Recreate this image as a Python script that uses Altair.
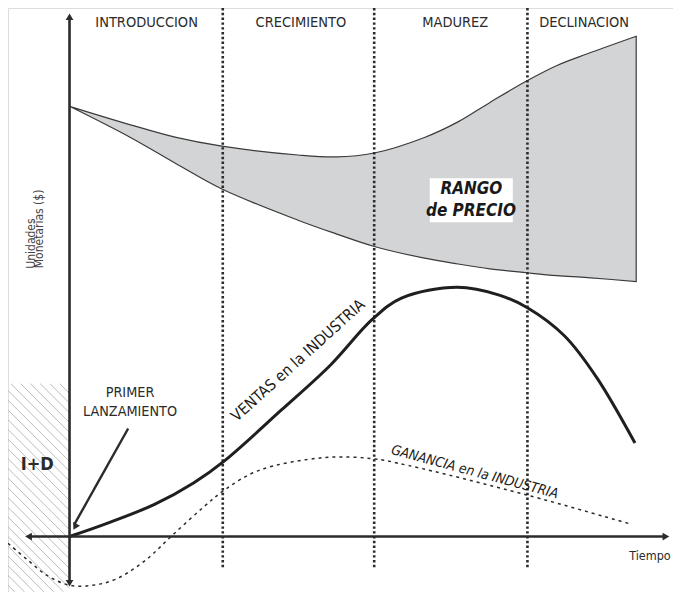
import altair as alt
import pandas as pd

# ---------------- data (time units / money units, origin at axis crossing) ----------------
phases = ["INTRODUCCION", "CRECIMIENTO", "MADUREZ", "DECLINACION"]
phase_center = [5.06, 15.19, 25.32, 33.78]
phase_bounds = [10.06, 20.0, 30.06]

price_t = [0, 4, 7, 10, 15, 17.5, 20, 23.3, 25.5, 27.6, 30, 32, 34, 37.2]
price_hi = [44.2, 42.3, 41.0, 40.1, 39.2, 39.0, 39.4, 41.0, 42.6, 44.6, 46.8, 48.4, 49.6, 51.4]
price_lo = [44.2, 41.0, 38.3, 35.7, 32.5, 31.1, 29.8, 28.6, 28.0, 27.5, 27.1, 26.8, 26.6, 26.2]

sales_t = [0, 2.37, 5.58, 8.14, 10.19, 13.91, 17.12, 19.87, 21.79, 25.45, 28.21, 30.06, 32.5, 34.62, 37.12]
sales_v = [0, 1.3, 3.3, 5.5, 7.8, 13.0, 17.6, 22.3, 24.5, 25.6, 24.8, 23.5, 20.6, 16.3, 9.6]

profit_t = [-4.04, -2.76, -1.47, 0, 1.54, 3.01, 4.94, 6.73, 8.78, 10.19, 12.44, 16.67, 19.87, 22.24, 29.94, 36.79]
profit_v = [-0.7, -2.4, -4.0, -5.0, -5.0, -4.4, -2.5, 0.1, 3.0, 4.8, 6.8, 8.1, 8.0, 7.3, 4.3, 1.3]

# ---------------- scales ----------------
X0, X1 = -4.0385, 39.615
Y0, Y1 = -5.7, 54.3
xs = alt.Scale(domain=[X0, X1], nice=False, zero=False)
ys = alt.Scale(domain=[Y0, Y1], nice=False, zero=False)

FONT = "Liberation Sans Narrow, Arial Narrow, DejaVu Sans Condensed, sans-serif"
INK = "#2b2b2b"
CURVE = "catmull-rom"


def X(f="t"):
    return alt.X(f"{f}:Q", scale=xs, axis=None)


def Y(f="m"):
    return alt.Y(f"{f}:Q", scale=ys, axis=None)


# hatch of the I+D zone (decorative), built in reference pixel space
hatch = []
px_l, px_r, py_t, py_b = 0, 63, 386, 600
c = py_t - px_r
while c <= py_b - px_l:
    xa = max(px_l, py_t - c)
    xb = min(px_r, py_b - c)
    if xb > xa:
        hatch.append({"t": (xa - 63) / 15.6, "m": (543 - (xa + c)) / 10,
                      "t2": (xb - 63) / 15.6, "m2": (543 - (xb + c)) / 10})
    c += 10
hatch_df = pd.DataFrame(hatch)

hatch_layer = alt.Chart(hatch_df).mark_rule(color="#b4b4b4", strokeWidth=0.9).encode(
    x=X(), y=Y(), x2="t2:Q", y2="m2:Q")

band_df = pd.DataFrame({"t": price_t, "hi": price_hi, "lo": price_lo})
band = alt.Chart(band_df).mark_area(
    fill="#d3d4d6", stroke="#3a3a3a", strokeWidth=1.2, interpolate=CURVE, opacity=1
).encode(x=X(), y=Y("hi"), y2="lo:Q")

label_box = alt.Chart(pd.DataFrame({"t": [23.65], "t2": [29.1], "m": [36.8], "m2": [32.3]})).mark_rect(
    fill="white").encode(x=X(), x2="t2:Q", y=Y(), y2="m2:Q")

bounds_df = pd.DataFrame({"t": phase_bounds, "m": [54.3] * 3, "m2": [-3.4] * 3})
bounds = alt.Chart(bounds_df).mark_rule(color=INK, strokeWidth=2.6, strokeDash=[2.4, 2.4]).encode(
    x=X(), y=Y(), y2="m2:Q")

axes_df = pd.DataFrame({"t": [0, -2.6], "t2": [0, 39.0], "m": [53.2, 0], "m2": [-4.6, 0]})
axes = alt.Chart(axes_df).mark_rule(color=INK, strokeWidth=2.6).encode(
    x=X(), x2="t2:Q", y=Y(), y2="m2:Q")

launch_df = pd.DataFrame({"t": [3.85], "m": [11.1], "t2": [0.3], "m2": [1.2]})
launch = alt.Chart(launch_df).mark_rule(color=INK, strokeWidth=2.4).encode(
    x=X(), y=Y(), x2="t2:Q", y2="m2:Q")

heads_df = pd.DataFrame({
    "t": [0, 0, -2.69, 39.15, 0.36],
    "m": [53.4, -4.8, 0, 0, 1.0],
    "ang": [0, 180, 270, 90, 208.7],
})
heads = alt.Chart(heads_df).mark_point(shape="triangle-up", filled=True, color=INK, size=60, opacity=1).encode(
    x=X(), y=Y(), angle=alt.Angle("ang:Q", scale=None))

sales = alt.Chart(pd.DataFrame({"t": sales_t, "m": sales_v})).mark_line(
    color="#1f1f1f", strokeWidth=3, interpolate=CURVE).encode(x=X(), y=Y())

profit = alt.Chart(pd.DataFrame({"t": profit_t, "m": profit_v})).mark_line(
    color=INK, strokeWidth=1.5, strokeDash=[3, 4], interpolate=CURVE).encode(x=X(), y=Y())

phase_txt = alt.Chart(pd.DataFrame({"t": phase_center, "m": [52.8] * 4, "txt": phases})).mark_text(
    font=FONT, fontSize=14.5, color=INK, align="center", baseline="middle").encode(x=X(), y=Y(), text="txt:N")

rango = alt.Chart(pd.DataFrame({"t": [26.38, 26.35], "m": [35.7, 33.4], "txt": ["RANGO", "de PRECIO"]})).mark_text(
    font=FONT, fontSize=17, fontStyle="italic", fontWeight="bold", color="#1a1a1a",
    align="center", baseline="middle").encode(x=X(), y=Y(), text="txt:N")

primer = alt.Chart(pd.DataFrame({"t": [3.97, 3.97], "m": [14.7, 12.8], "txt": ["PRIMER", "LANZAMIENTO"]})).mark_text(
    font=FONT, fontSize=14.3, color=INK, align="center", baseline="middle").encode(x=X(), y=Y(), text="txt:N")

imasd = alt.Chart(pd.DataFrame({"t": [-2.12], "m": [7.3], "txt": ["I+D"]})).mark_text(
    font=FONT, fontSize=18, fontWeight="bold", color=INK, align="center", baseline="middle").encode(
    x=X(), y=Y(), text="txt:N")

tiempo = alt.Chart(pd.DataFrame({"t": [38.1], "m": [-2.0], "txt": ["Tiempo"]})).mark_text(
    font=FONT, fontSize=12.5, color=INK, align="center", baseline="middle").encode(x=X(), y=Y(), text="txt:N")

ylab = alt.Chart(pd.DataFrame({"t": [-2.56, -1.99], "m": [30.1, 31.6], "txt": ["Unidades", "Monetarias ($)"]})).mark_text(
    font=FONT, fontSize=12, color="#444", angle=270, align="center", baseline="middle").encode(
    x=X(), y=Y(), text="txt:N")

ventas = alt.Chart(pd.DataFrame({"t": [15.0], "m": [18.1], "txt": ["VENTAS en la INDUSTRIA"]})).mark_text(
    font=FONT, fontSize=15.5, color="#1a1a1a", angle=318, align="center", baseline="middle").encode(
    x=X(), y=Y(), text="txt:N")

ganancia = alt.Chart(pd.DataFrame({"t": [26.6], "m": [6.6], "txt": ["GANANCIA en la INDUSTRIA"]})).mark_text(
    font=FONT, fontSize=13.8, fontStyle="italic", color="#1a1a1a", angle=15, align="center", baseline="middle").encode(
    x=X(), y=Y(), text="txt:N")

chart = alt.layer(
    hatch_layer, band, label_box, bounds, profit, sales, axes, launch, heads,
    phase_txt, rango, primer, imasd, tiempo, ylab, ventas, ganancia
).properties(
    width=665, height=584, autosize=alt.AutoSizeParams(type="none"), padding=0
).configure_view(stroke=None).configure(background="white")

chart.save("out.html", embed_options={"renderer": "svg", "actions": False})
